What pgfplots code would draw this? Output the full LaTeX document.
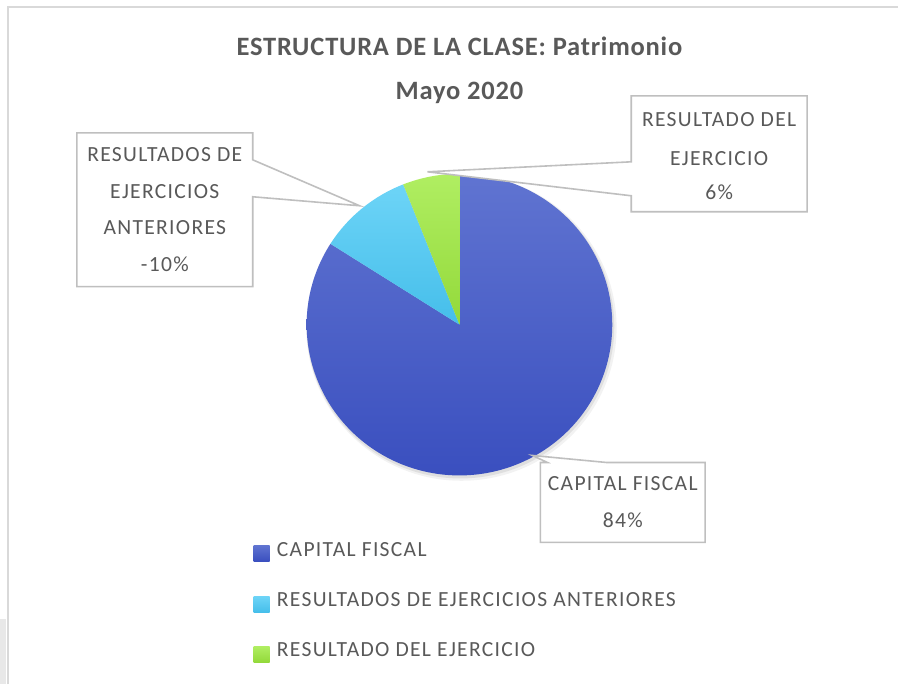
\documentclass[border=0pt]{standalone}
\usepackage{pgfplots}
\pgfplotsset{compat=1.18}
\usepackage{pgfplotstable}
\usepackage{fontspec}
\setmainfont{Carlito}
\newfontfamily\lblfont[LetterSpace=6]{Carlito}
\newfontfamily\ttlfont[LetterSpace=3]{Carlito}
\definecolor{txt}{HTML}{595959}
\definecolor{boxc}{HTML}{BFBFBF}
\definecolor{frame}{HTML}{D9D9D9}
\definecolor{blueT}{HTML}{6074D1}
\definecolor{blueB}{HTML}{3A4FBF}
\definecolor{cyanT}{HTML}{6DD4F7}
\definecolor{cyanB}{HTML}{45BEEA}
\definecolor{greenT}{HTML}{B0EE62}
\definecolor{greenB}{HTML}{93D93A}

\pgfplotstableread{
idx value
0 84
1 -10
2 6
}\piedata
\pgfplotstablegetelem{0}{value}\of\piedata \let\vA\pgfplotsretval
\pgfplotstablegetelem{1}{value}\of\piedata \let\vB\pgfplotsretval
\pgfplotstablegetelem{2}{value}\of\piedata \let\vC\pgfplotsretval
\pgfmathsetmacro\aA{90}
\pgfmathsetmacro\aB{\aA-3.6*abs(\vA)}
\pgfmathsetmacro\aC{\aB-3.6*abs(\vB)}
\pgfmathsetmacro\aD{\aC-3.6*abs(\vC)}

\begin{document}
\begin{tikzpicture}
\begin{axis}[
  scale only axis, width=674.25pt, height=513.75pt,
  xmin=0, xmax=899, ymin=0, ymax=685, y dir=reverse,
  hide axis, clip=false,
]
\path (axis cs:0,0) rectangle (axis cs:899,685);
% frame
\fill[color=black!9] (axis cs:0,620) rectangle (axis cs:6,685);
\draw[frame, line width=1.6pt] (axis cs:8,685) -- (axis cs:8,7) -- (axis cs:899,7);

% shadow
\fill[black, opacity=0.05] (axis cs:462,328) ellipse [x radius=116.5pt, y radius=115pt];
\fill[black, opacity=0.08] (axis cs:461,327) ellipse [x radius=115.5pt, y radius=114pt];

% slices
\addplot[draw=none, top color=blueT, bottom color=blueB, domain=\aB:\aA, samples=220, variable=\t]
  ({460+153*cos(\t)},{325-151*sin(\t)}) -- (axis cs:460,325) -- cycle;
\addplot[draw=none, top color=cyanT, bottom color=cyanB, domain=\aC:\aB, samples=40, variable=\t]
  ({460+153*cos(\t)},{325-151*sin(\t)}) -- (axis cs:460,325) -- cycle;
\addplot[draw=none, top color=greenT, bottom color=greenB, domain=\aD:\aC, samples=30, variable=\t]
  ({460+153*cos(\t)},{325-151*sin(\t)}) -- (axis cs:460,325) -- cycle;

% callouts
\filldraw[fill=white, draw=boxc, line width=1.2pt, line join=miter]
  (axis cs:632,96) -- (axis cs:808,96) -- (axis cs:808,212) -- (axis cs:632,212) -- (axis cs:632,196)
  -- (axis cs:428,172) -- (axis cs:632,162) -- cycle;
\filldraw[fill=white, draw=boxc, line width=1.2pt, line join=miter]
  (axis cs:77,133) -- (axis cs:253,133) -- (axis cs:253,160) -- (axis cs:360,206) -- (axis cs:253,197)
  -- (axis cs:253,287) -- (axis cs:77,287) -- cycle;
\filldraw[fill=white, draw=boxc, line width=1.2pt, line join=miter]
  (axis cs:541,463) -- (axis cs:548,463) -- (axis cs:533,456) -- (axis cs:607,463) -- (axis cs:706,463)
  -- (axis cs:706,543) -- (axis cs:541,543) -- cycle;

\begin{scope}[every node/.style={inner sep=0pt, anchor=base, text=txt, font=\lblfont\fontsize{16.2pt}{18pt}\selectfont}]
\node at (axis cs:720,127) {RESULTADO DEL};
\node at (axis cs:720,165.5) {EJERCICIO};
\node at (axis cs:720,199.5) {6\%};
\node at (axis cs:165,162) {RESULTADOS DE};
\node at (axis cs:165,199) {EJERCICIOS};
\node at (axis cs:165,235) {ANTERIORES};
\node at (axis cs:165,272) {-10\%};
\node at (axis cs:623.5,491) {CAPITAL FISCAL};
\node at (axis cs:623.5,528) {84\%};
% legend
\node[anchor=base west] at (axis cs:277,557.5) {CAPITAL FISCAL};
\node[anchor=base west] at (axis cs:277,607.5) {RESULTADOS DE EJERCICIOS ANTERIORES};
\node[anchor=base west] at (axis cs:277,657.5) {RESULTADO DEL EJERCICIO};
\end{scope}
\shade[top color=blueT, bottom color=blueB] (axis cs:254,546) rectangle (axis cs:270,562);
\shade[top color=cyanT, bottom color=cyanB] (axis cs:254,597) rectangle (axis cs:270,613);
\shade[top color=greenT, bottom color=greenB] (axis cs:254,647) rectangle (axis cs:270,663);

% titles
\node[inner sep=0pt, anchor=base, text=txt, font=\ttlfont\bfseries\fontsize{19.9pt}{22pt}\selectfont] at (axis cs:460,56) {ESTRUCTURA DE LA CLASE: Patrimonio};
\node[inner sep=0pt, anchor=base, text=txt, font=\ttlfont\bfseries\fontsize{19.9pt}{22pt}\selectfont] at (axis cs:460,100) {Mayo 2020};
\end{axis}
\end{tikzpicture}
\end{document}
